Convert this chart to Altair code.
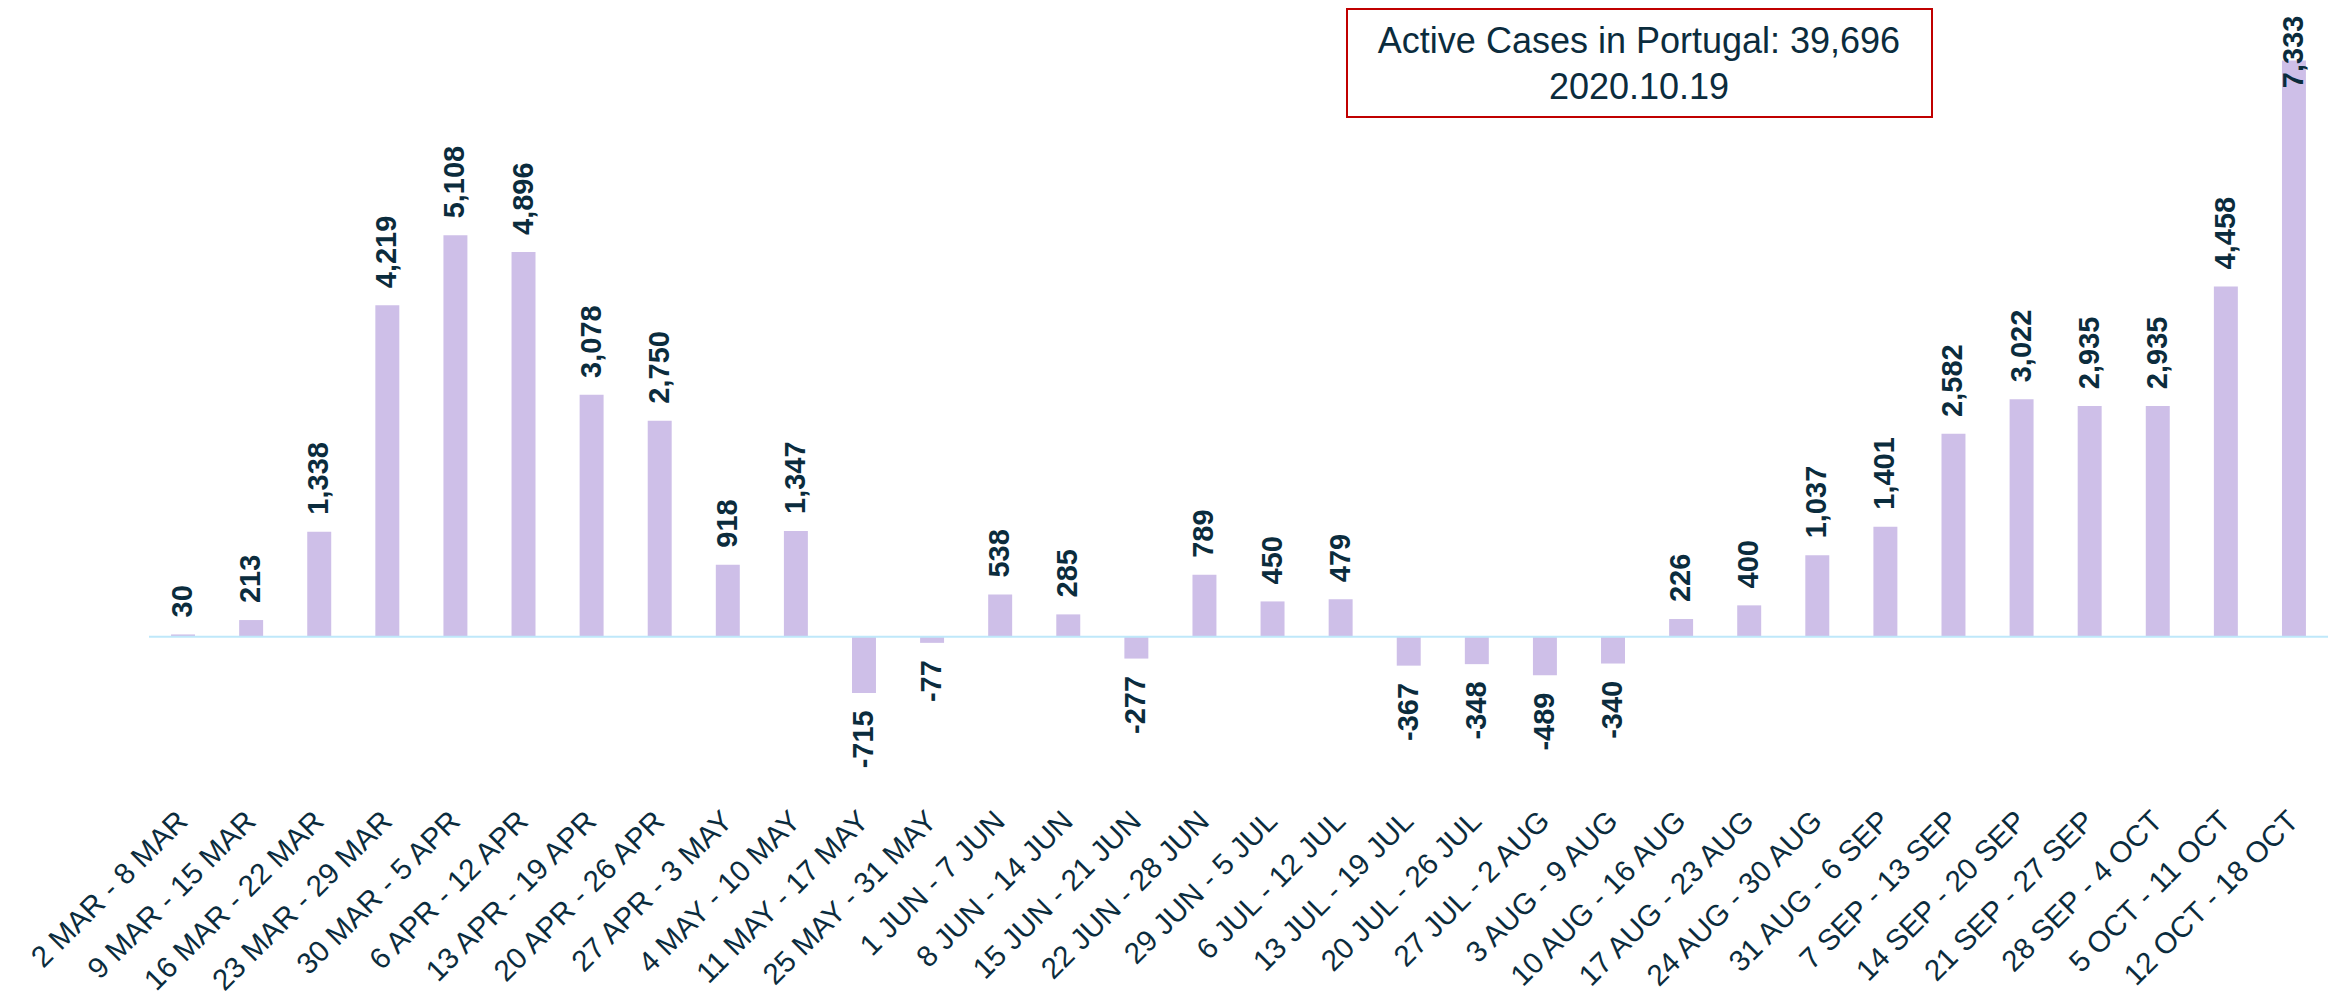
import altair as alt
import pandas as pd

weeks = [
    "2 MAR - 8 MAR", "9 MAR - 15 MAR", "16 MAR - 22 MAR", "23 MAR - 29 MAR",
    "30 MAR - 5 APR", "6 APR - 12 APR", "13 APR - 19 APR", "20 APR - 26 APR",
    "27 APR - 3 MAY", "4 MAY - 10 MAY", "11 MAY - 17 MAY", "25 MAY - 31 MAY",
    "1 JUN - 7 JUN", "8 JUN - 14 JUN", "15 JUN - 21 JUN", "22 JUN - 28 JUN",
    "29 JUN - 5 JUL", "6 JUL - 12 JUL", "13 JUL - 19 JUL", "20 JUL - 26 JUL",
    "27 JUL - 2 AUG", "3 AUG - 9 AUG", "10 AUG - 16 AUG", "17 AUG - 23 AUG",
    "24 AUG - 30 AUG", "31 AUG - 6 SEP", "7 SEP - 13 SEP", "14 SEP - 20 SEP",
    "21 SEP - 27 SEP", "28 SEP - 4 OCT", "5 OCT - 11 OCT", "12 OCT - 18 OCT",
]
values = [
    30, 213, 1338, 4219, 5108, 4896, 3078, 2750, 918, 1347, -715, -77,
    538, 285, -277, 789, 450, 479, -367, -348, -489, -340, 226, 400,
    1037, 1401, 2582, 3022, 2935, 2935, 4458, 7333,
]
title_lines = ["Active Cases in Portugal: 39,696", "2020.10.19"]

FONT = "Liberation Sans"
TEXT_COLOR = "#0b2c3d"
BAR_COLOR = "#cebfe8"
Y_MIN, Y_MAX = -2000, 8000

df = pd.DataFrame({"week": weeks, "value": values})
df["label"] = [f"{v:,}" for v in values]

base = alt.Chart(df)

x_enc = alt.X(
    "week:N",
    sort=weeks,
    title=None,
    scale=alt.Scale(paddingInner=0.648, paddingOuter=0.324),
    axis=alt.Axis(
        labelAngle=-45,
        labelAlign="right",
        labelBaseline="middle",
        labelFontSize=29.5,
        labelFont=FONT,
        labelColor=TEXT_COLOR,
        labelPadding=22,
        labelLimit=500,
        labelOverlap=False,
        domain=False,
        ticks=False,
        tickSize=0,
        grid=False,
    ),
)
y_scale = alt.Scale(domain=[Y_MIN, Y_MAX], nice=False, zero=True)

bars = base.mark_bar(color=BAR_COLOR).encode(
    x=x_enc,
    y=alt.Y("value:Q", scale=y_scale, axis=None),
    y2=alt.datum(0),
)

zero_line = alt.Chart(pd.DataFrame({"zero": [0]})).mark_rule(
    color="#bfe8fa", strokeWidth=2
).encode(y=alt.Y("zero:Q", scale=y_scale, axis=None))

pos_labels = base.transform_filter("datum.value >= 0").transform_calculate(
    ly="min(datum.value + 216, 6980)"
).mark_text(
    angle=270, align="left", baseline="middle", fontSize=29,
    fontWeight="bold", font=FONT, color=TEXT_COLOR,
).encode(
    x=alt.X("week:N", sort=weeks),
    y=alt.Y("ly:Q", scale=y_scale, axis=None),
    text="label:N",
)

neg_labels = base.transform_filter("datum.value < 0").transform_calculate(
    ly="datum.value - 220"
).mark_text(
    angle=270, align="right", baseline="middle", fontSize=29,
    fontWeight="bold", font=FONT, color=TEXT_COLOR,
).encode(
    x=alt.X("week:N", sort=weeks),
    y=alt.Y("ly:Q", scale=y_scale, axis=None),
    text="label:N",
)

one = alt.Data(values=[{"k": 1}])
box = alt.Chart(one).mark_rect(
    fill="white", stroke="#c00000", strokeWidth=2
).encode(
    x=alt.value(1198), x2=alt.value(1783),
    y=alt.value(1), y2=alt.value(109),
)
title1 = alt.Chart(one).mark_text(
    fontSize=36, font=FONT, color=TEXT_COLOR, align="center", baseline="alphabetic"
).encode(x=alt.value(1490), y=alt.value(45), text=alt.value(title_lines[0]))
title2 = alt.Chart(one).mark_text(
    fontSize=36, font=FONT, color=TEXT_COLOR, align="center", baseline="alphabetic"
).encode(x=alt.value(1490), y=alt.value(91), text=alt.value(title_lines[1]))

chart = alt.layer(
    bars, zero_line, pos_labels, neg_labels, box, title1, title2
).properties(
    width=2179,
    height=786,
    autosize=alt.AutoSizeParams(type="none"),
    padding={"left": 141, "top": 0, "right": 0, "bottom": 205},
    background="white",
).configure_view(stroke=None)

chart.save("out.html", embed_options={"renderer": "svg", "actions": False})
